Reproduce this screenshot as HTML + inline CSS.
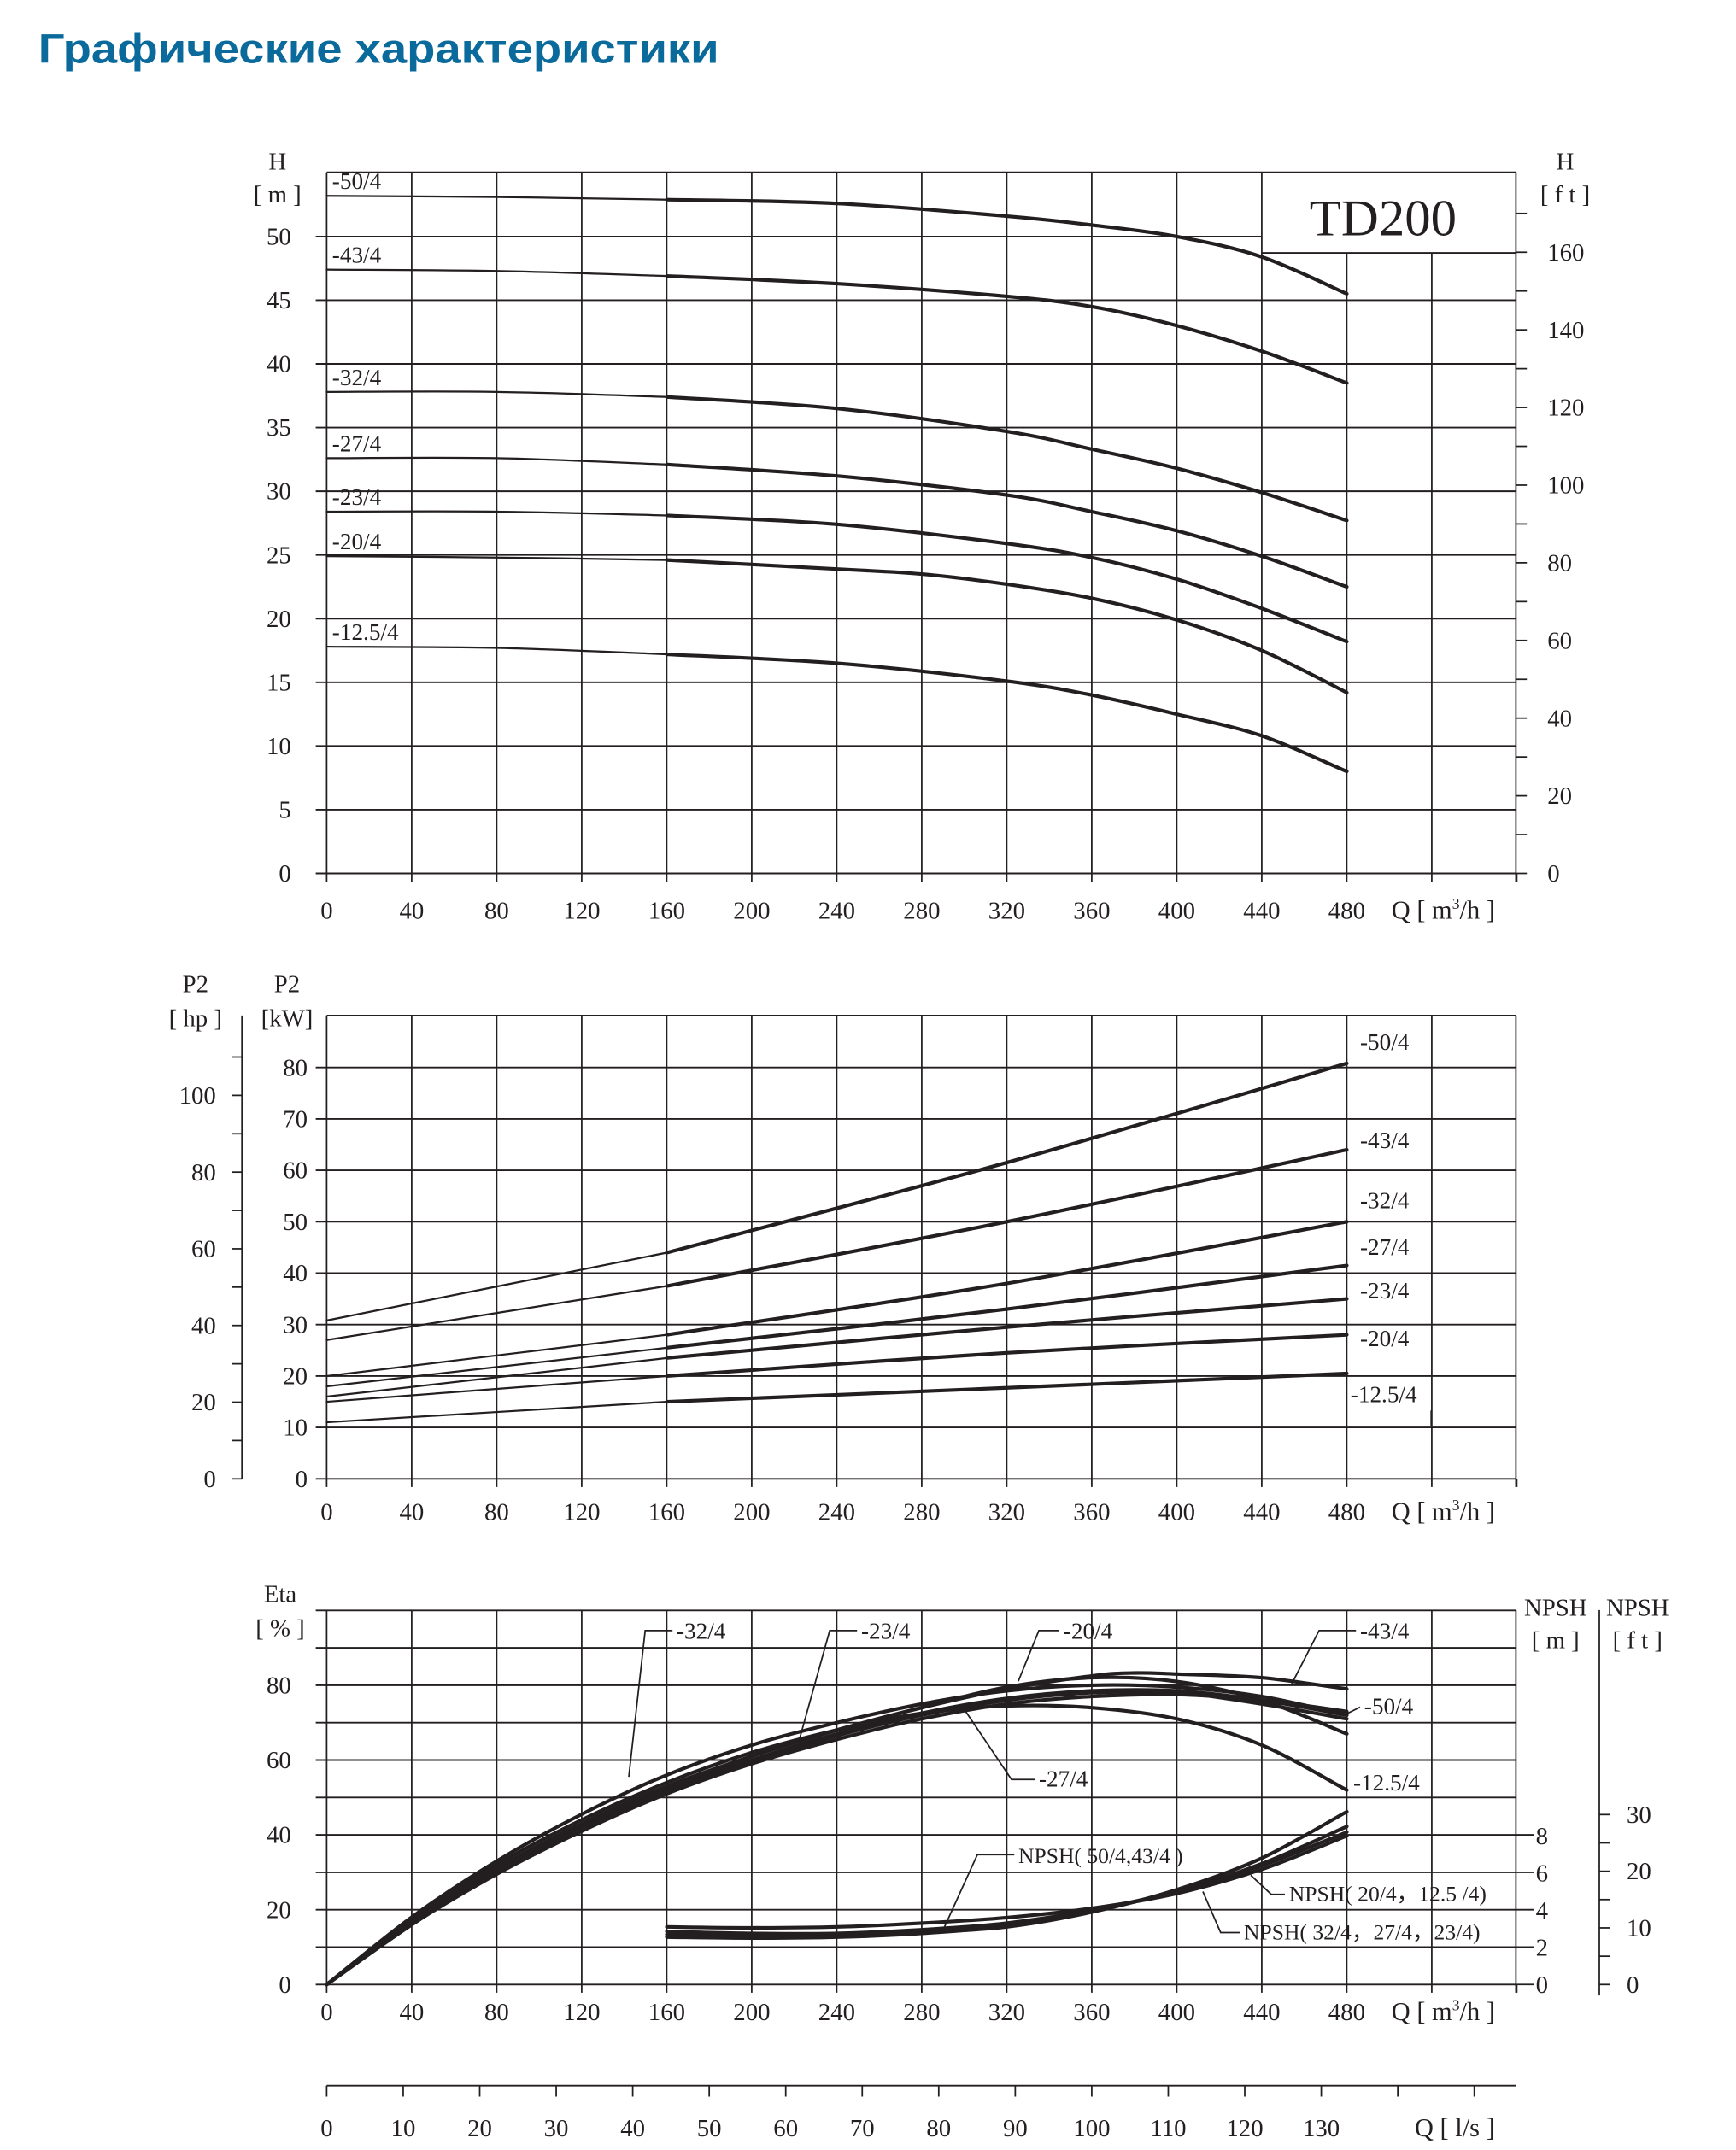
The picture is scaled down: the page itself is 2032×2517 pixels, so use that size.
<!DOCTYPE html>
<html><head><meta charset="utf-8">
<style>
html,body{margin:0;padding:0;background:#fff;}
svg{display:block;}
text{font-family:"Liberation Serif",serif;fill:#231f20;}
</style></head>
<body>
<svg id="s" width="2032" height="2517" viewBox="0 0 1270 1573" xmlns="http://www.w3.org/2000/svg">
<rect width="1270" height="1573" fill="#fff"/>
<text x="28" y="46" style="font-family:'Liberation Sans',sans-serif;font-weight:bold;fill:#0a6a9b" font-size="30" textLength="498" lengthAdjust="spacingAndGlyphs">Графические характеристики</text>
<g id="g"></g>
</svg>
<script>
const NS="http://www.w3.org/2000/svg",G=document.getElementById('g');
function el(t,a,txt){const e=document.createElementNS(NS,t);for(const k in a)e.setAttribute(k,a[k]);if(txt!==undefined)e.textContent=txt;G.appendChild(e);return e;}
function L(x1,y1,x2,y2,w){el('line',{x1,y1,x2,y2,stroke:'#231f20','stroke-width':w||1.1});}
function T(x,y,s,sz,anc){const e=el('text',{x,y,'font-size':sz||17,'text-anchor':anc||'start'},s);return e;}
function Tm3(x,y){const t=el('text',{x,y,'font-size':19});t.innerHTML='Q  [ m<tspan dy="-7" font-size="11">3</tspan><tspan dy="7">/h ]</tspan>';}
const X=q=>239+q*1.5547;
function curve(pts,w){
  let d='M'+pts[0][0].toFixed(1)+','+pts[0][1].toFixed(1);
  for(let i=0;i<pts.length-1;i++){const p0=pts[i-1]||pts[i],p1=pts[i],p2=pts[i+1],p3=pts[i+2]||p2;
    const c1=[p1[0]+(p2[0]-p0[0])/6,p1[1]+(p2[1]-p0[1])/6],c2=[p2[0]-(p3[0]-p1[0])/6,p2[1]-(p3[1]-p1[1])/6];
    d+=` C${c1[0].toFixed(1)},${c1[1].toFixed(1)} ${c2[0].toFixed(1)},${c2[1].toFixed(1)} ${p2[0].toFixed(1)},${p2[1].toFixed(1)}`;}
  el('path',{d,fill:'none',stroke:'#231f20','stroke-width':w||2.6,'stroke-linecap':'round'});
}
function series(data,Yf,thin){
  const qs=Object.keys(data).map(Number).sort((a,b)=>a-b);
  const pts=qs.map(q=>[X(q),Yf(data[q])]);
  if(thin){const a=pts.filter((p,i)=>qs[i]<=160),b=pts.filter((p,i)=>qs[i]>=160);curve(a,1.4);curve(b,2.6);}else curve(pts,2.6);
}
function xlabels(y){for(let q=0;q<=480;q+=40)T(X(q),y,String(q),18,'middle');}

/* ===== Chart 1 ===== */
{const Y=h=>639-h*9.32;
for(let h=0;h<=50;h+=5){const y=Y(h);L(231,y,h==50?923:1109,y,1.2);T(213,y+6,String(h),18,'end');}
L(239,126,1109,126,1.2);
for(let q=40;q<=520;q+=40){L(X(q),q>440?185:126,X(q),639);}
L(239,126,239,639);L(1109,126,1109,645);L(923,185,1109,185,1.2);
for(let q=0;q<=560;q+=40)L(X(q),639,X(q),645);
for(let f=0;f<=170;f+=10){const y=639-f*0.3048*9.32;L(1109,y,1117,y);if(f%20==0)T(1132,y+6,String(f),18);}
T(203,124,'H',18,'middle');T(203,148,'[ m ]',18,'middle');
T(1145,124,'H',18,'middle');T(1145,148,'[ f t ]',18,'middle');
T(958,172,'TD200',38);
xlabels(672);Tm3(1018,672);
const D=[['-50/4',{0:53.2,80:53.1,160:52.9,240:52.6,320:51.6,360:50.9,400:50,440:48.4,480:45.5}],
['-43/4',{0:47.4,80:47.3,160:46.9,240:46.3,320:45.3,360:44.5,400:43,440:41,480:38.5}],
['-32/4',{0:37.8,80:37.8,160:37.4,240:36.5,320:34.7,360:33.3,400:31.8,440:29.9,480:27.7}],
['-27/4',{0:32.6,80:32.6,160:32.1,240:31.2,320:29.7,360:28.4,400:26.9,440:24.9,480:22.5}],
['-23/4',{0:28.4,80:28.4,160:28.1,240:27.4,320:25.9,360:24.8,400:23.1,440:20.8,480:18.2}],
['-20/4',{0:24.9,80:24.8,160:24.6,240:23.9,280:23.5,320:22.7,360:21.6,400:19.9,440:17.5,480:14.2}],
['-12.5/4',{0:17.8,80:17.7,160:17.2,240:16.5,320:15.1,360:14,400:12.5,440:10.8,480:8}]];
D.forEach(([n,d])=>{series(d,Y,true);T(243,Y(d[0])-5,n,17);});
}

/* ===== Chart 2 ===== */
{const Y=p=>1082-p*3.7625;
for(let p=0;p<=80;p+=10){const y=Y(p);L(231,y,1109,y,1.2);T(225,y+6,String(p),18,'end');}
L(239,743,1109,743,1.2);
for(let q=40;q<=520;q+=40)L(X(q),743,X(q),1082);
L(239,743,239,1082);L(1109,743,1109,1088);
for(let q=0;q<=560;q+=40)L(X(q),1082,X(q),1088);
L(177,743,177,1082);
for(let h=0;h<=110;h+=10){const y=1082-h*0.7457*3.7625;L(170,y,177,y);if(h%20==0&&h<=100)T(158,y+6,String(h),18,'end');}
T(143,726,'P2',18,'middle');T(143,751,'[ hp ]',18,'middle');
T(210,726,'P2',18,'middle');T(210,751,'[kW]',18,'middle');
xlabels(1112);Tm3(1018,1112);
const D=[['-50/4',{0:30.8,160:44,320:61.5,480:80.8},768],['-43/4',{0:27,160:37.5,320:50,480:64},840],
['-32/4',{0:20,160:28,320:38,480:50},884],['-27/4',{0:18,160:25.5,320:33,480:41.5},918],
['-23/4',{0:16,160:23.5,320:29.5,480:35},950],['-20/4',{0:15,160:20,320:24.5,480:28},985],
['-12.5/4',{0:11,160:15,320:17.7,480:20.5},1026]];
D.forEach(([n,d,ly])=>{series(d,Y,true);T(n=='-12.5/4'?988:995,ly,n,17);});
L(1047,1032,1047,1043);
}

/* ===== Chart 3 ===== */
{const Y=e=>1452-e*2.7375,Ym=m=>1452-m*13.6;
for(let e=0;e<=100;e+=10){const y=Y(e);L(231,y,e<=40&&e>0?1122:1109,y,1.2);if(e%20==0&&e<100)T(213,y+6,String(e),18,'end');}
L(1109,Y(0),1122,Y(0));
for(let q=40;q<=520;q+=40)L(X(q),1178,X(q),1452);
L(239,1178,239,1452);L(1109,1178,1109,1458);
for(let q=0;q<=560;q+=40)L(X(q),1452,X(q),1458);
for(let m=0;m<=8;m+=2)T(1128,Ym(m)+6,String(m),18,'middle');
L(1170,1178,1170,1460);
for(let f=0;f<=30;f+=5){const y=1452-f*0.3048*13.6;L(1170,y,1178,y);if(f%10==0)T(1190,y+6,String(f),18);}
T(205,1172,'Eta',18,'middle');T(205,1197,'[ % ]',18,'middle');
T(1138,1182,'NPSH',18,'middle');T(1138,1206,'[ m ]',18,'middle');
T(1198,1182,'NPSH',18,'middle');T(1198,1206,'[ f t ]',18,'middle');
xlabels(1478);Tm3(1018,1478);
const E=[
{0:0,40:18,80:33,120:45.5,160:56,200:64,240:70,280:75,320:78.5,360:80,400:79.5,440:77,480:72},
{0:0,40:17,80:31,120:43,160:53,200:61,240:68,280:74,320:79,360:82.5,380:83.3,400:83,440:82,480:79},
{0:0,40:16.5,80:31,120:42.5,160:52.5,200:61,240:68,280:74,320:79.5,360:82,400:81,440:76,480:67},
{0:0,40:16.5,80:30.5,120:42,160:52,200:60,240:67,280:72.5,320:76.5,360:78.5,400:78.5,440:76,480:72},
{0:0,40:16,80:30,120:41.5,160:51.5,200:59.5,240:66.5,280:72,320:76,360:78,400:78,440:75,480:71},
{0:0,40:16,80:29.5,120:41,160:51,200:59,240:65.5,280:71,320:75,360:77,400:77.5,440:76,480:73},
{0:0,40:17,80:32,120:44,160:54,200:62,240:68,280:72.5,320:74.5,360:74,400:71,440:64,480:52}];
E.forEach(d=>series(d,Y));
const N=[{160:3.1,200:3.05,240:3.1,280:3.3,320:3.6,360:4.1,400:4.9,440:6.2,480:8.0},
{160:2.7,200:2.6,240:2.6,280:2.8,320:3.1,360:3.9,400:5.1,440:6.8,480:9.3},
{160:2.85,200:2.75,240:2.75,280:2.95,320:3.3,360:4.0,400:5.0,440:6.5,480:8.5},
{160:2.55,200:2.5,240:2.55,280:2.75,320:3.15,360:4.0,400:5.0,440:6.4,480:8.2}];
N.forEach(d=>series(d,Ym));
const P=(pts)=>el('polyline',{points:pts,fill:'none',stroke:'#231f20','stroke-width':1.1});
T(495,1199,'-32/4',17);P('492,1193 472,1193 460,1300');
T(630,1199,'-23/4',17);P('627,1193 607,1193 585,1272');
T(778,1199,'-20/4',17);P('775,1193 760,1193 745,1230');
T(995,1199,'-43/4',17);P('992,1193 965,1193 945,1232');
T(998,1254,'-50/4',17);P('995,1249 985,1254');
T(990,1310,'-12.5/4',17);
T(760,1307,'-27/4',17);P('757,1302 740,1302 705,1250');
T(745,1363,'NPSH( 50/4,43/4 )',16);P('742,1357 715,1357 690,1412');
T(943,1391,'NPSH( 20/4，12.5 /4)',16);P('940,1386 930,1386 915,1372');
T(910,1419,'NPSH( 32/4，27/4，23/4)',16);P('907,1414 893,1414 880,1384');
}

/* ===== l/s axis ===== */
{L(239,1526,1109,1526,1.2);
for(let l=0;l<=150;l+=10){const x=239+l*3.6*1.5547;if(x>1110)break;L(x,1526,x,1534);if(l<=130)T(x,1563,String(l),18,'middle');}
el('text',{x:1035,y:1563,'font-size':19},'Q  [ l/s ]');}
</script>
</body></html>
